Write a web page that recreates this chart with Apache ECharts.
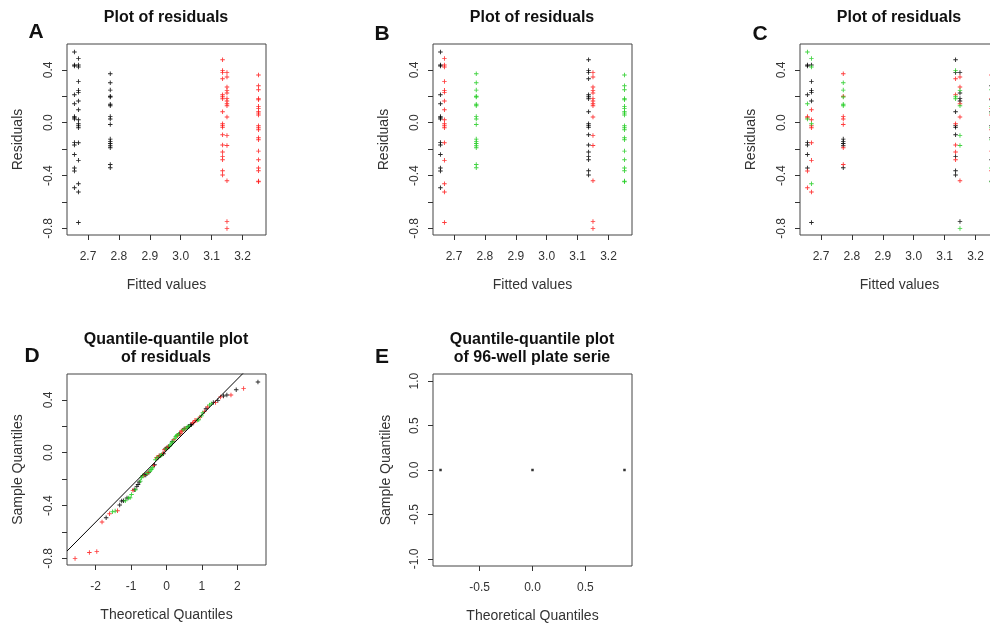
<!DOCTYPE html>
<html>
<head>
<meta charset="utf-8">
<script src="https://cdn.jsdelivr.net/npm/echarts@6/dist/echarts.min.js"></script>
<style>
html,body{margin:0;padding:0;background:#fff;overflow:hidden;width:990px;height:625px;}
#chart{width:1004px;height:625px;}
</style>
</head>
<body>
<div id="chart"></div>
<script>
// ---------------- data ----------------
// fitted value of each of the six columns of points
const fittedValues = [2.656, 2.669, 2.772, 3.1355, 3.1497, 3.2516];

// residuals of each column (top to bottom)
const residCol1 = [0.535, 0.437, 0.430, 0.212, 0.144, 0.048, 0.038, 0.028, -0.149, -0.169, -0.240, -0.343, -0.366, -0.492];
const residCol2 = [0.487, 0.437, 0.422, 0.313, 0.245, 0.230, 0.164, 0.098, 0.023, -0.008, -0.023, -0.038, -0.152, -0.285, -0.462, -0.525, -0.755];
const residCol3 = [0.371, 0.303, 0.247, 0.200, 0.195, 0.140, 0.128, 0.048, 0.028, -0.013, -0.124, -0.141, -0.157, -0.174, -0.189, -0.316, -0.341];
const residCol4 = [0.477, 0.396, 0.381, 0.333, 0.212, 0.197, 0.182, 0.083, -0.008, -0.023, -0.035, -0.091, -0.169, -0.222, -0.255, -0.280, -0.364, -0.396];
const residCol5 = [0.381, 0.346, 0.270, 0.245, 0.225, 0.184, 0.164, 0.144, 0.129, 0.043, -0.096, -0.172, -0.439, -0.747, -0.800];
const residCol6 = [0.361, 0.280, 0.250, 0.184, 0.174, 0.124, 0.109, 0.083, 0.073, 0.058, -0.023, -0.038, -0.053, -0.114, -0.129, -0.215, -0.280, -0.343, -0.364, -0.442, -0.447];

// colour of each point in panel C (k = black, r = red, g = green)
const cColCol1 = ['g','k','k','k','g','r','r','g','k','k','k','k','r','r'];
const cColCol2 = ['g','k','g','k','k','k','k','r','r','g','r','r','r','r','g','r','k'];
const cColCol3 = ['r','g','g','r','g','g','g','r','r','r','k','k','k','k','r','r','k'];
const cColCol4 = ['k','g','k','r','r','g','g','k','r','k','k','k','r','r','k','r','k','k'];
const cColCol5 = ['k','r','r','g','k','k','k','r','g','r','g','g','r','k','g'];
const cColCol6 = ['r','k','g','r','k','g','r','k','g','r','k','g','r','k','g','r','k','g','r','k','g'];

// panel A: colour per column; panel B: colour per column
const aColCols = ['k','k','k','r','r','r'];
const bColCols = ['k','r','g','k','r','g'];

// tick values
const residTickX = [2.7, 2.8, 2.9, 3.0, 3.1, 3.2];
const residTickY = [-0.8, -0.6, -0.4, -0.2, 0.0, 0.2, 0.4];
const residLabelY = [-0.8, -0.4, 0.0, 0.4];
const qqTickX = [-2, -1, 0, 1, 2];

// reference line of the Q-Q plot
const qqLineIntercept = 0.016;
const qqLineSlope = 0.2706;

// panel E: 96-well plate serie
const plateQuantX = [-0.869, 0.0, 0.869];
const plateQuantY = [0.0, 0.0, 0.0];
const plateTickX = [-0.5, 0.0, 0.5];
const plateTickY = [-1.0, -0.5, 0.0, 0.5, 1.0];

// ---------------- building ----------------
const residCols = [residCol1, residCol2, residCol3, residCol4, residCol5, residCol6];
const cCols = [cColCol1, cColCol2, cColCol3, cColCol4, cColCol5, cColCol6];
const COLORS = {k: '#000000', r: '#ff1a1a', g: '#22cc22'};
const PLUS = 'path://M0,2L5,2L5,3L0,3Z M2,0L3,0L3,5L2,5Z';
const FONT = 'Liberation Sans, Arial, sans-serif';

function qnorm(p) {
  const a=[-3.969683028665376e+01,2.209460984245205e+02,-2.759285104469687e+02,1.383577518672690e+02,-3.066479806614716e+01,2.506628277459239e+00];
  const b=[-5.447609879822406e+01,1.615858368580409e+02,-1.556989798598866e+02,6.680131188771972e+01,-1.328068155288572e+01];
  const c=[-7.784894002430293e-03,-3.223964580411365e-01,-2.400758277161838e+00,-2.549732539343734e+00,4.374664141464968e+00,2.938163982698783e+00];
  const d=[7.784695709041462e-03,3.224671290700398e-01,2.445134137142996e+00,3.754408661907416e+00];
  const pl=0.02425, ph=1-pl; let q, r;
  if (p < pl) { q=Math.sqrt(-2*Math.log(p)); return (((((c[0]*q+c[1])*q+c[2])*q+c[3])*q+c[4])*q+c[5])/((((d[0]*q+d[1])*q+d[2])*q+d[3])*q+1); }
  if (p <= ph) { q=p-0.5; r=q*q; return (((((a[0]*r+a[1])*r+a[2])*r+a[3])*r+a[4])*r+a[5])*q/(((((b[0]*r+b[1])*r+b[2])*r+b[3])*r+b[4])*r+1); }
  q=Math.sqrt(-2*Math.log(1-p)); return -(((((c[0]*q+c[1])*q+c[2])*q+c[3])*q+c[4])*q+c[5])/((((d[0]*q+d[1])*q+d[2])*q+d[3])*q+1);
}

function pointsBy(colorFn) {
  const groups = {k: [], r: [], g: []};
  residCols.forEach((col, i) => col.forEach((v, j) => {
    groups[colorFn(i, j)].push([fittedValues[i], v]);
  }));
  return groups;
}

const grids = [
  {left: 67, top: 44, width: 199, height: 191},
  {left: 433, top: 44, width: 199, height: 191},
  {left: 800, top: 44, width: 199, height: 191},
  {left: 67, top: 374, width: 199, height: 191},
  {left: 433, top: 374, width: 199, height: 192}
].map(g => Object.assign({show: true, borderColor: '#444', borderWidth: 1, backgroundColor: 'transparent'}, g));

function fmt(d) { return v => Number(v).toFixed(d); }

function xAx(gi, min, max, ticks, labels, dig, name) {
  return {
    type: 'value', gridIndex: gi, min, max, scale: true, position: 'bottom',
    axisLine: {show: false, onZero: false}, splitLine: {show: false},
    axisTick: {show: true, length: 5, lineStyle: {color: '#333'}, customValues: ticks},
    axisLabel: {customValues: labels, formatter: fmt(dig), fontSize: 12, color: '#333', margin: 16, fontFamily: FONT, hideOverlap: false},
    name, nameLocation: 'middle', nameGap: 43,
    nameTextStyle: {fontSize: 14, color: '#333', fontFamily: FONT}
  };
}
function yAx(gi, min, max, ticks, labels, dig, name, gap) {
  return {
    type: 'value', gridIndex: gi, min, max, scale: true, position: 'left',
    axisLine: {show: false, onZero: false}, splitLine: {show: false},
    axisTick: {show: true, length: 5, lineStyle: {color: '#333'}, customValues: ticks},
    axisLabel: {customValues: labels, formatter: fmt(dig), fontSize: 12, color: '#333', margin: 12, rotate: 90, fontFamily: FONT, hideOverlap: false},
    name, nameLocation: 'middle', nameGap: gap, nameRotate: 90,
    nameTextStyle: {fontSize: 14, color: '#333', fontFamily: FONT}
  };
}

const XMIN = 2.632, XMAX = 3.276, YMIN = -0.85, YMAX = 0.596;
const xAxes = [
  xAx(0, XMIN, XMAX, residTickX, residTickX, 1, 'Fitted values'),
  xAx(1, XMIN, XMAX, residTickX, residTickX, 1, 'Fitted values'),
  xAx(2, XMIN, XMAX, residTickX, residTickX, 1, 'Fitted values'),
  xAx(3, -2.81, 2.81, qqTickX, qqTickX, 0, 'Theoretical Quantiles'),
  xAx(4, -0.94, 0.94, plateTickX, plateTickX, 1, 'Theoretical Quantiles')
];
const yAxes = [
  yAx(0, YMIN, YMAX, residTickY, residLabelY, 1, 'Residuals', 42),
  yAx(1, YMIN, YMAX, residTickY, residLabelY, 1, 'Residuals', 42),
  yAx(2, YMIN, YMAX, residTickY, residLabelY, 1, 'Residuals', 42),
  yAx(3, YMIN, YMAX, residTickY, residLabelY, 1, 'Sample Quantiles', 42),
  yAx(4, -1.08, 1.08, plateTickY, plateTickY, 1, 'Sample Quantiles', 40)
];

const series = [];
function addScatter(gi, groups) {
  ['k', 'r', 'g'].forEach(c => {
    if (!groups[c] || !groups[c].length) return;
    series.push({
      type: 'scatter', xAxisIndex: gi, yAxisIndex: gi, data: groups[c],
      symbol: PLUS, symbolSize: 4.5, itemStyle: {color: COLORS[c], opacity: 0.85},
      silent: true, clip: true
    });
  });
}
addScatter(0, pointsBy((i) => aColCols[i]));
addScatter(1, pointsBy((i) => bColCols[i]));
addScatter(2, pointsBy((i, j) => cCols[i][j]));

// Panel D: sorted residuals against normal quantiles, coloured as in B
const all = [];
residCols.forEach((col, i) => col.forEach(v => all.push({v, c: bColCols[i]})));
all.sort((p, q) => p.v - q.v);
const n = all.length;
const qqGroups = {k: [], r: [], g: []};
all.forEach((p, i) => qqGroups[p.c].push([qnorm((i + 0.5) / n), p.v]));
series.push({
  type: 'line', xAxisIndex: 3, yAxisIndex: 3, symbol: 'none', silent: true, clip: true,
  lineStyle: {color: '#000', width: 1},
  data: [[-2.81, qqLineIntercept + qqLineSlope * -2.81], [2.81, qqLineIntercept + qqLineSlope * 2.81]]
});
addScatter(3, qqGroups);

// Panel E
series.push({
  type: 'scatter', xAxisIndex: 4, yAxisIndex: 4, silent: true,
  data: plateQuantX.map((x, i) => [x, plateQuantY[i]]),
  symbol: 'rect', symbolSize: 2.5, itemStyle: {color: '#000'}
});

function txt(x, y, text, font, extra) {
  return {type: 'text', x, y, silent: true,
    style: Object.assign({text, font, fill: '#111', align: 'center', verticalAlign: 'middle'}, extra || {})};
}
const TFONT = 'bold 16px ' + FONT;
const LFONT = 'bold 21px ' + FONT;
const graphic = [
  txt(166, 18, 'Plot of residuals', TFONT),
  txt(532, 18, 'Plot of residuals', TFONT),
  txt(899, 18, 'Plot of residuals', TFONT),
  txt(166, 349, 'Quantile-quantile plot\nof residuals', TFONT, {lineHeight: 18}),
  txt(532, 349, 'Quantile-quantile plot\nof 96-well plate serie', TFONT, {lineHeight: 18}),
  txt(36, 32, 'A', LFONT),
  txt(382, 34, 'B', LFONT),
  txt(760, 34, 'C', LFONT),
  txt(32, 356, 'D', LFONT),
  txt(382, 357, 'E', LFONT)
];

const chart = echarts.init(document.getElementById('chart'), null, {renderer: 'canvas'});
chart.setOption({
  animation: false,
  backgroundColor: '#ffffff',
  textStyle: {fontFamily: FONT},
  grid: grids,
  xAxis: xAxes,
  yAxis: yAxes,
  series,
  graphic
});
</script>
</body>
</html>
